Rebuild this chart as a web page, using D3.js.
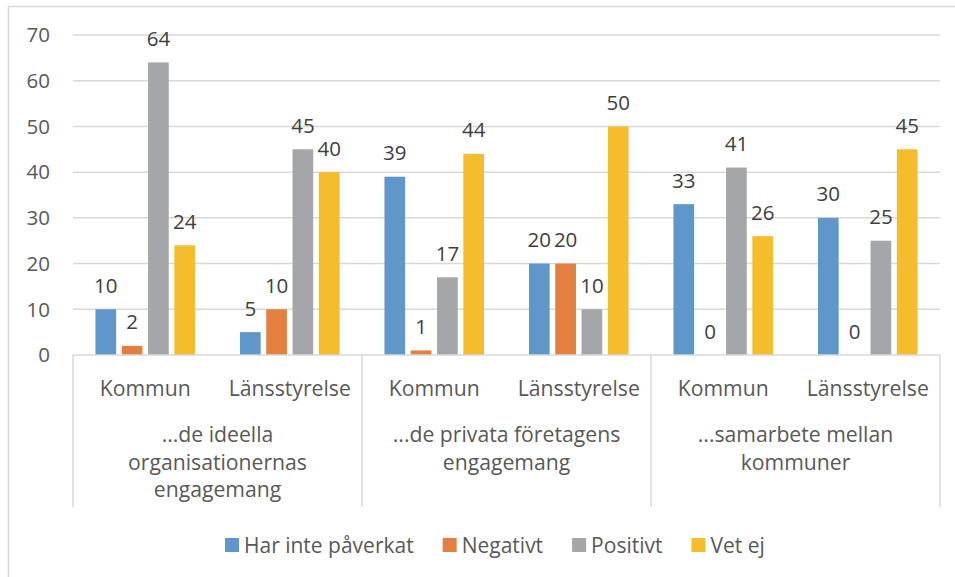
<!DOCTYPE html>
<html>
<head>
<meta charset="utf-8">
<script src="https://cdn.jsdelivr.net/npm/d3@7/dist/d3.min.js"></script>
<style>
  html, body { margin: 0; padding: 0; background: #fff; }
  svg { display: block; font-family: "Open Sans", sans-serif; }
</style>
</head>
<body>
<svg id="chart" width="955" height="577"></svg>
<script>
// ---- data ----
const subCategories = ["Kommun", "Länsstyrelse", "Kommun", "Länsstyrelse", "Kommun", "Länsstyrelse"];
const groupLabels = [
  ["...de ideella", "organisationernas", "engagemang"],
  ["...de privata företagens", "engagemang"],
  ["...samarbete mellan", "kommuner"]
];
const seriesNames = ["Har inte påverkat", "Negativt", "Positivt", "Vet ej"];
const harIntePaverkat = [10, 5, 39, 20, 33, 30];
const negativt = [2, 10, 1, 20, 0, 0];
const positivt = [64, 45, 17, 10, 41, 25];
const vetEj = [24, 40, 44, 50, 26, 45];
const yTicks = [0, 10, 20, 30, 40, 50, 60, 70];
const seriesColors = ["#6097cb", "#e4803f", "#a5a6a9", "#f5bc2c"];

const seriesValues = [harIntePaverkat, negativt, positivt, vetEj];

// ---- layout ----
const svg = d3.select("#chart");
const plot = { left: 73, right: 940, top: 35, bottom: 355 };
const catBottom = 507;
const gridColor = "#d9d9d9";
const textColor = "#595959";
const labelColor = "#404040";
const fontSize = 20.5;
const catFont = 21.2;
const legendFont = 21;

// outer frame
svg.append("rect")
  .attr("x", 8.5).attr("y", 6.5)
  .attr("width", 960).attr("height", 600)
  .attr("fill", "none").attr("stroke", gridColor).attr("stroke-width", 1.5);

const y = d3.scaleLinear().domain([0, 70]).range([plot.bottom, plot.top]);
const idx = d3.range(subCategories.length);
const x0 = d3.scaleBand().domain(idx).range([plot.left, plot.right]).paddingInner(0).paddingOuter(0);
const x1 = d3.scaleBand().domain(d3.range(seriesNames.length))
  .range([0, x0.bandwidth()]).paddingInner(0.213).paddingOuter(0.854);
const xg = d3.scaleBand().domain(d3.range(groupLabels.length)).range([plot.left, plot.right]);

// gridlines
svg.append("g").selectAll("line").data(yTicks.filter(t => t > 0)).join("line")
  .attr("x1", plot.left).attr("x2", plot.right)
  .attr("y1", d => y(d)).attr("y2", d => y(d))
  .attr("stroke", gridColor).attr("stroke-width", 1.5);

// y axis labels
svg.append("g").selectAll("text").data(yTicks).join("text")
  .attr("x", 50).attr("y", d => y(d) + 0.357 * fontSize)
  .attr("text-anchor", "end")
  .attr("font-size", fontSize).attr("fill", textColor)
  .text(d => d);

// bars
const barG = svg.append("g");
seriesValues.forEach((vals, s) => {
  barG.selectAll(null).data(vals).join("rect")
    .attr("x", (d, i) => x0(i) + x1(s))
    .attr("width", x1.bandwidth())
    .attr("y", d => y(d))
    .attr("height", d => y(0) - y(d))
    .attr("fill", seriesColors[s]);
  barG.selectAll(null).data(vals).join("text")
    .attr("x", (d, i) => x0(i) + x1(s) + x1.bandwidth() / 2)
    .attr("y", d => y(d) - 16.5)
    .attr("text-anchor", "middle")
    .attr("font-size", fontSize).attr("fill", labelColor)
    .text(d => d);
});

// category axis box
const axG = svg.append("g");
axG.append("line")
  .attr("x1", plot.left).attr("x2", plot.right)
  .attr("y1", plot.bottom).attr("y2", plot.bottom)
  .attr("stroke", gridColor).attr("stroke-width", 1.5);
const seps = d3.range(groupLabels.length + 1).map(i => i < groupLabels.length ? xg(i) : plot.right);
axG.selectAll("line.sep").data(seps).join("line").attr("class", "sep")
  .attr("x1", d => d).attr("x2", d => d)
  .attr("y1", plot.bottom).attr("y2", catBottom)
  .attr("stroke", gridColor).attr("stroke-width", 1.5);

axG.selectAll("text.sub").data(subCategories).join("text").attr("class", "sub")
  .attr("x", (d, i) => x0(i) + x0.bandwidth() / 2)
  .attr("y", 396)
  .attr("text-anchor", "middle")
  .attr("font-size", catFont).attr("fill", textColor)
  .text(d => d);

groupLabels.forEach((lines, g) => {
  axG.append("text")
    .attr("text-anchor", "middle")
    .attr("font-size", catFont).attr("fill", textColor)
    .selectAll("tspan").data(lines).join("tspan")
    .attr("x", xg(g) + xg.bandwidth() / 2)
    .attr("y", (d, i) => 442 + i * 27.5)
    .text(d => d);
});

// legend
const legend = svg.append("g");
let lx = 225;
seriesNames.forEach((name, s) => {
  legend.append("rect")
    .attr("x", lx).attr("y", 538).attr("width", 14).attr("height", 14)
    .attr("fill", seriesColors[s]);
  const t = legend.append("text")
    .attr("x", lx + 19).attr("y", 552.5)
    .attr("font-size", legendFont).attr("fill", textColor)
    .text(name);
  lx += 19 + t.node().getComputedTextLength() + 29;
});
</script>
</body>
</html>
